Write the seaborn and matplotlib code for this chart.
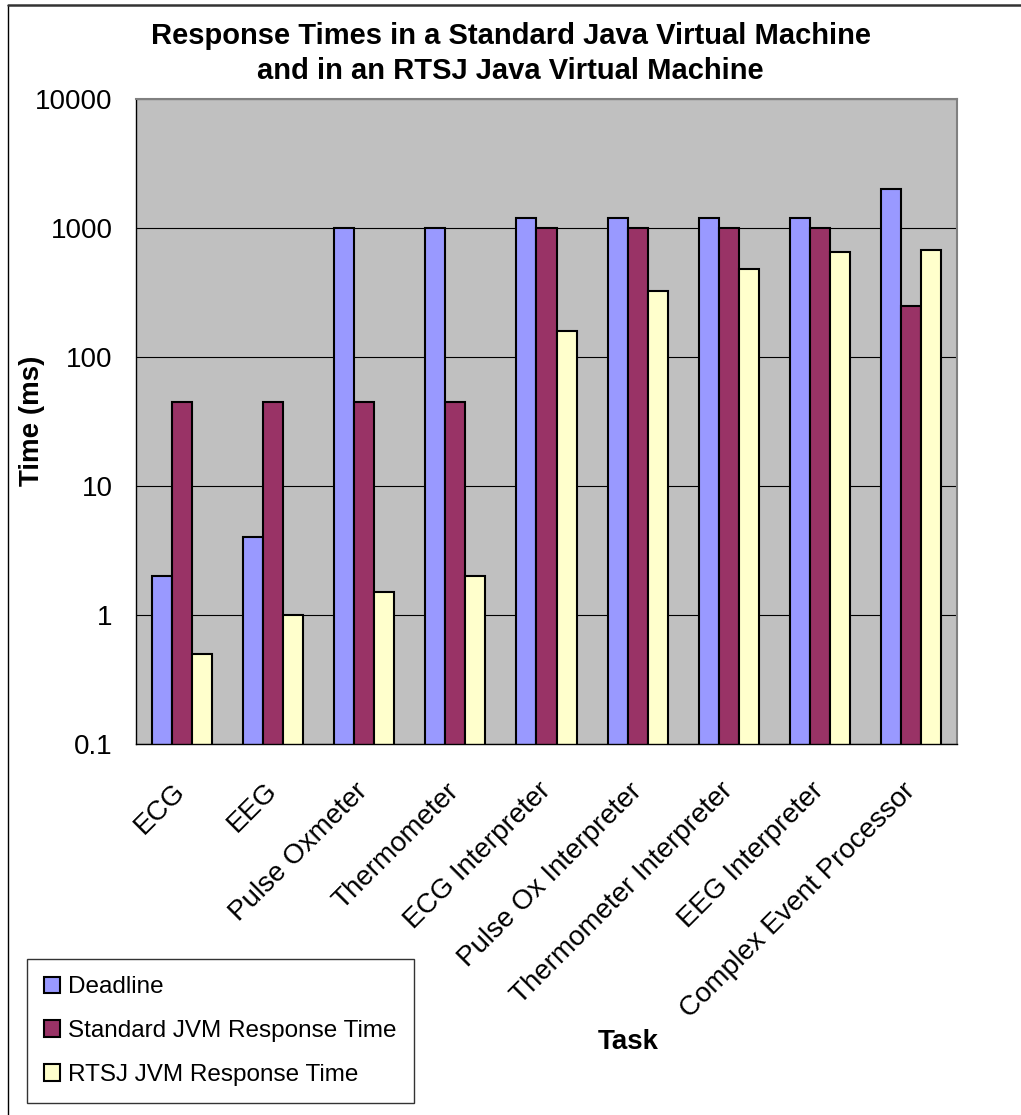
import matplotlib
matplotlib.use("Agg")
import matplotlib.pyplot as plt
import matplotlib.ticker as mticker
from matplotlib.lines import Line2D
import numpy as np
import pandas as pd
import seaborn as sns

tasks = ["ECG", "EEG", "Pulse Oxmeter", "Thermometer", "ECG Interpreter",
         "Pulse Ox Interpreter", "Thermometer Interpreter", "EEG Interpreter",
         "Complex Event Processor"]
series = ["Deadline", "Standard JVM Response Time", "RTSJ JVM Response Time"]
deadline = [2, 4, 1000, 1000, 1200, 1200, 1200, 1200, 2000]
standard = [45, 45, 45, 45, 1000, 1000, 1000, 1000, 250]
rtsj = [0.5, 1, 1.5, 2, 160, 325, 480, 650, 680]
colors = ["#9999FF", "#993366", "#FFFFCC"]
ytick_vals = [0.1, 1, 10, 100, 1000, 10000]
ytick_labels = ["0.1", "1", "10", "100", "1000", "10000"]

df = pd.DataFrame({
    "Task": tasks * 3,
    "Series": np.repeat(series, len(tasks)),
    "Time": deadline + standard + rtsj,
})

sns.set_style("white", {"text.color": "black", "axes.labelcolor": "black",
                        "xtick.color": "black", "ytick.color": "black"})
plt.rcParams["font.family"] = ["Liberation Sans", "DejaVu Sans"]

W, H = 1021, 1115
fig = plt.figure(figsize=(W / 100, H / 100), dpi=100)
ax = fig.add_axes([136 / W, 1 - 744 / H, (957 - 136) / W, (744 - 99) / H])
ax.set_facecolor("#C0C0C0")

sns.barplot(data=df, x="Task", y="Time", hue="Series", order=tasks,
            hue_order=series, palette=colors, saturation=1, width=0.66,
            edgecolor="black", linewidth=1.5, ax=ax)
ax.set_yscale("log", nonpositive="clip")

ax.set_ylim(0.1, 10000)
ax.set_xlim(-0.5, len(tasks) - 0.5)
ax.yaxis.set_major_locator(mticker.FixedLocator(ytick_vals))
ax.yaxis.set_major_formatter(mticker.FixedFormatter(ytick_labels))
ax.yaxis.set_minor_locator(mticker.NullLocator())
ax.yaxis.grid(True, color="black", lw=0.8)
ax.set_axisbelow(True)

ax.set_xticks(range(len(tasks)))
ax.set_xticklabels(tasks, rotation=45, ha="right", va="center",
                   rotation_mode="anchor")
ax.set_xticks(np.arange(-0.5, len(tasks), 1), minor=True)
ax.tick_params(axis="x", which="major", length=0, pad=31, labelsize=20,
               labelcolor="black")
ax.tick_params(axis="x", which="minor", length=9, width=1, color="black",
               direction="out")
ax.tick_params(axis="y", length=9, width=1, color="black", direction="out",
               labelsize=20, pad=8, labelcolor="black")
ax.set_xlabel("")
ax.set_ylabel("")

for s in ["left", "bottom"]:
    ax.spines[s].set_color("black")
    ax.spines[s].set_linewidth(1)
for s in ["top", "right"]:
    ax.spines[s].set_color("#808080")
    ax.spines[s].set_linewidth(1.5)

handles, labels = ax.get_legend_handles_labels()
ax.get_legend().remove()
leg = ax.legend(handles, labels, loc="lower left",
                bbox_to_anchor=(27 / W, 1 - 1103 / H),
                bbox_transform=fig.transFigure, fontsize=17.5,
                frameon=True, fancybox=False, edgecolor="black",
                handlelength=0.65, handleheight=0.65, handletextpad=0.35,
                labelspacing=0.9, borderpad=0.7, borderaxespad=0)
leg.get_frame().set_linewidth(1)
for t in leg.get_texts():
    t.set_color("black")

fig.suptitle("Response Times in a Standard Java Virtual Machine\n"
             "and in an RTSJ Java Virtual Machine",
             x=0.5, y=1 - 22 / H, va="top", fontsize=21, fontweight="bold",
             color="black", linespacing=1.3)
fig.text(32 / W, 1 - 421 / H, "Time (ms)", rotation=90, ha="center",
         va="center", fontsize=20, fontweight="bold", color="black")
fig.text(628 / W, 1 - 1042 / H, "Task", ha="center", va="center",
         fontsize=20, fontweight="bold", color="black")

fig.add_artist(Line2D([8 / W, 8 / W], [0, 1 - 5 / H], transform=fig.transFigure,
                      color="black", lw=1))
fig.add_artist(Line2D([8 / W, 1], [1 - 5 / H, 1 - 5 / H],
                      transform=fig.transFigure, color="#333333", lw=1.8))

fig.savefig("out.png", dpi=100, facecolor="white")
